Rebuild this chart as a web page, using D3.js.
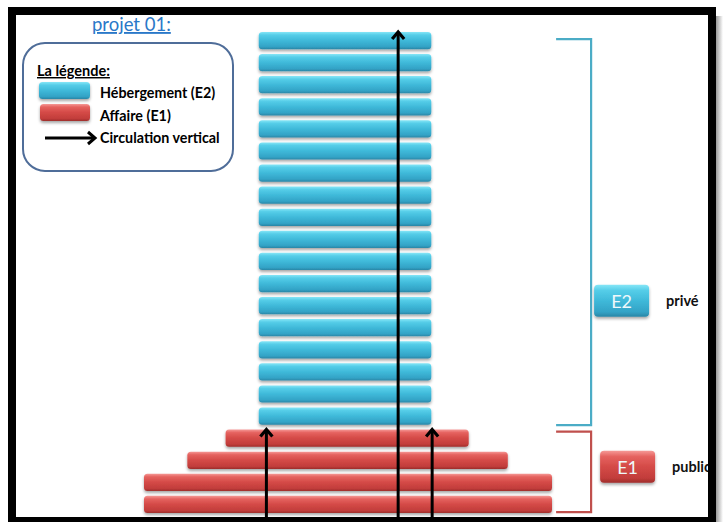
<!DOCTYPE html>
<html><head><meta charset="utf-8">
<script src="https://cdn.jsdelivr.net/npm/d3@7"></script>
<style>html,body{margin:0;padding:0;background:#fff;}svg{display:block;}</style>
</head><body>
<script>
// ---- data ----
// floors from bottom (0) to top (21)
const floorLevel = d3.range(22);
const floorType  = ["E1","E1","E1","E1"].concat(d3.range(18).map(() => "E2"));
const floorStart = [0, 0, 5.1, 9.6].concat(d3.range(18).map(() => 13.5));
const floorEnd   = [48, 48, 42.8, 38.2].concat(d3.range(18).map(() => 33.8));
// vertical circulation: x position and floor reached
const arrowX     = [14.4, 29.9, 33.9];
const arrowTop   = [3, 21, 3];
// brackets / zones
const zoneName   = ["E2", "E1"];
const zoneTop    = [21, 3];
const zoneBottom = [4, 0];
const zoneLabel  = ["privé", "public"];
const zoneBoxLevel = [9.2, 1.68];
// legend
const legendTitle = "La légende:";
const legendItems = ["Hébergement (E2)", "Affaire (E1)", "Circulation vertical"];
const chartTitle = "projet 01:";

const W = 723, H = 522;
const svg = d3.select("body").append("svg").attr("width", W).attr("height", H);
const defs = svg.append("defs");

function grad(id, stops) {
  const g = defs.append("linearGradient").attr("id", id).attr("x1", 0).attr("y1", 0).attr("x2", 0).attr("y2", 1);
  stops.forEach(s => g.append("stop").attr("offset", s[0]).attr("stop-color", s[1]));
}
grad("gBlue", [[0, "#86e6f7"], [0.18, "#55cde8"], [0.5, "#3fb9d9"], [0.85, "#33a3c6"], [1, "#2a86a6"]]);
grad("gRed",  [[0, "#f59895"], [0.18, "#e5625f"], [0.5, "#d44a47"], [0.85, "#c23d3b"], [1, "#9e2d2b"]]);
grad("gShadowR", [[0, "#555"], [1, "#fff"]]);
defs.select("#gShadowR").attr("x2", 1).attr("y2", 0);
const f = defs.append("filter").attr("id", "sh").attr("x", "-10%").attr("y", "-30%").attr("width", "120%").attr("height", "190%");
f.append("feDropShadow").attr("dx", 0).attr("dy", 2).attr("stdDeviation", 1.4).attr("flood-color", "#000").attr("flood-opacity", 0.35);

const colorOf = t => t === "E2" ? "url(#gBlue)" : "url(#gRed)";
const FONT = "Lato, 'Open Sans', sans-serif";

// ---- scales ----
const x = d3.scaleLinear().domain([0, 48]).range([144, 552]);
const y = d3.scaleBand().domain(floorLevel.slice().reverse()).range([29.5, 515.5]).paddingInner(0.22).paddingOuter(0.11);
const yC = l => y(l) + y.bandwidth() / 2;
const yLin = d3.scaleLinear().domain([0, 21]).range([yC(0), yC(21)]);

// ---- bars ----
const floors = floorLevel.map((l, i) => ({ l, t: floorType[i], s: floorStart[i], e: floorEnd[i] }));
svg.append("g").selectAll("rect").data(floors).join("rect")
  .attr("x", d => x(d.s)).attr("y", d => y(d.l))
  .attr("width", d => x(d.e) - x(d.s)).attr("height", y.bandwidth())
  .attr("rx", 3.5).attr("fill", d => colorOf(d.t)).attr("filter", "url(#sh)");

// ---- arrows ----
function chevron(g, cx, cy, w, h, sw) {
  g.append("path").attr("d", `M${cx - w},${cy + h} L${cx},${cy + 1} L${cx + w},${cy + h}`)
    .attr("fill", "none").attr("stroke", "#000").attr("stroke-width", sw).attr("stroke-linejoin", "miter");
}
const ag = svg.append("g");
arrowX.forEach((ax, i) => {
  const px = x(ax), top = y(arrowTop[i]) - 1;
  ag.append("line").attr("x1", px).attr("x2", px).attr("y1", 522).attr("y2", top + 2)
    .attr("stroke", "#000").attr("stroke-width", 3);
  chevron(ag, px, top, 6, 8, 3.2);
});

// ---- brackets and zone labels ----
const colors = { E2: "#4bacc6", E1: "#c0504d" };
const bx = x(52.6);
zoneName.forEach((z, i) => {
  const y0 = z === "E2" ? yC(zoneTop[i]) - 1.5 : y(zoneTop[i]) + 2;
  const y1 = z === "E2" ? y(zoneBottom[i]) + y.bandwidth() + 0.5 : y(zoneBottom[i]) + y.bandwidth() - 1;
  svg.append("path").attr("d", `M${bx - 35},${y0} H${bx} V${y1} H${bx - 35}`)
    .attr("fill", "none").attr("stroke", colors[z]).attr("stroke-width", 2.2);
  const cy = yLin(zoneBoxLevel[i]);
  const bxL = z === "E2" ? bx + 3 : bx + 9;
  svg.append("rect").attr("x", bxL).attr("y", cy - 16.5).attr("width", 55).attr("height", 32)
    .attr("rx", 4).attr("fill", colorOf(z)).attr("filter", "url(#sh)");
  svg.append("text").attr("x", bxL + 27.5).attr("y", cy + 6.5).attr("text-anchor", "middle")
    .attr("font-family", FONT).attr("font-size", 18).attr("fill", "#eef8fb").text(z);
  svg.append("text").attr("x", bxL + 72).attr("y", cy + 4.5).attr("font-family", FONT)
    .attr("font-weight", "bold").attr("font-size", 14.5).attr("fill", "#111").text(zoneLabel[i]);
});

// ---- title and legend ----
svg.append("text").attr("x", 92).attr("y", 31).attr("font-family", FONT).attr("font-size", 18.5)
  .attr("fill", "#2a78c8").attr("text-decoration", "underline").text(chartTitle);
svg.append("rect").attr("x", 23).attr("y", 43).attr("width", 210).attr("height", 128).attr("rx", 22)
  .attr("fill", "#fff").attr("stroke", "#4f6d99").attr("stroke-width", 2);
svg.append("text").attr("x", 37).attr("y", 76).attr("font-family", FONT).attr("font-weight", "bold")
  .attr("font-size", 14.5).attr("fill", "#000").attr("text-decoration", "underline").text(legendTitle);
svg.append("rect").attr("x", 39).attr("y", 82).attr("width", 51).attr("height", 17).attr("rx", 3.5)
  .attr("fill", "url(#gBlue)").attr("filter", "url(#sh)");
svg.append("rect").attr("x", 40).attr("y", 104).attr("width", 50).attr("height", 17).attr("rx", 3.5)
  .attr("fill", "url(#gRed)").attr("filter", "url(#sh)");
svg.append("line").attr("x1", 45).attr("x2", 94).attr("y1", 138).attr("y2", 138).attr("stroke", "#000").attr("stroke-width", 3);
svg.append("path").attr("d", "M88,132 L95,138 L88,144").attr("fill", "none").attr("stroke", "#000").attr("stroke-width", 3);
const ly = [97.5, 120.5, 142.5];
legendItems.forEach((t, i) => {
  svg.append("text").attr("x", 100).attr("y", ly[i]).attr("font-family", FONT).attr("font-weight", "bold")
    .attr("font-size", 14.3).attr("fill", "#000").text(t);
});

// ---- frame ----
svg.append("rect").attr("x", 716).attr("y", 16).attr("width", 7).attr("height", 506).attr("fill", "url(#gShadowR)").attr("opacity", 0.6);
svg.append("rect").attr("x", 12).attr("y", 11).attr("width", 700).attr("height", 510)
  .attr("fill", "none").attr("stroke", "#000").attr("stroke-width", 8);
</script>
</body></html>
